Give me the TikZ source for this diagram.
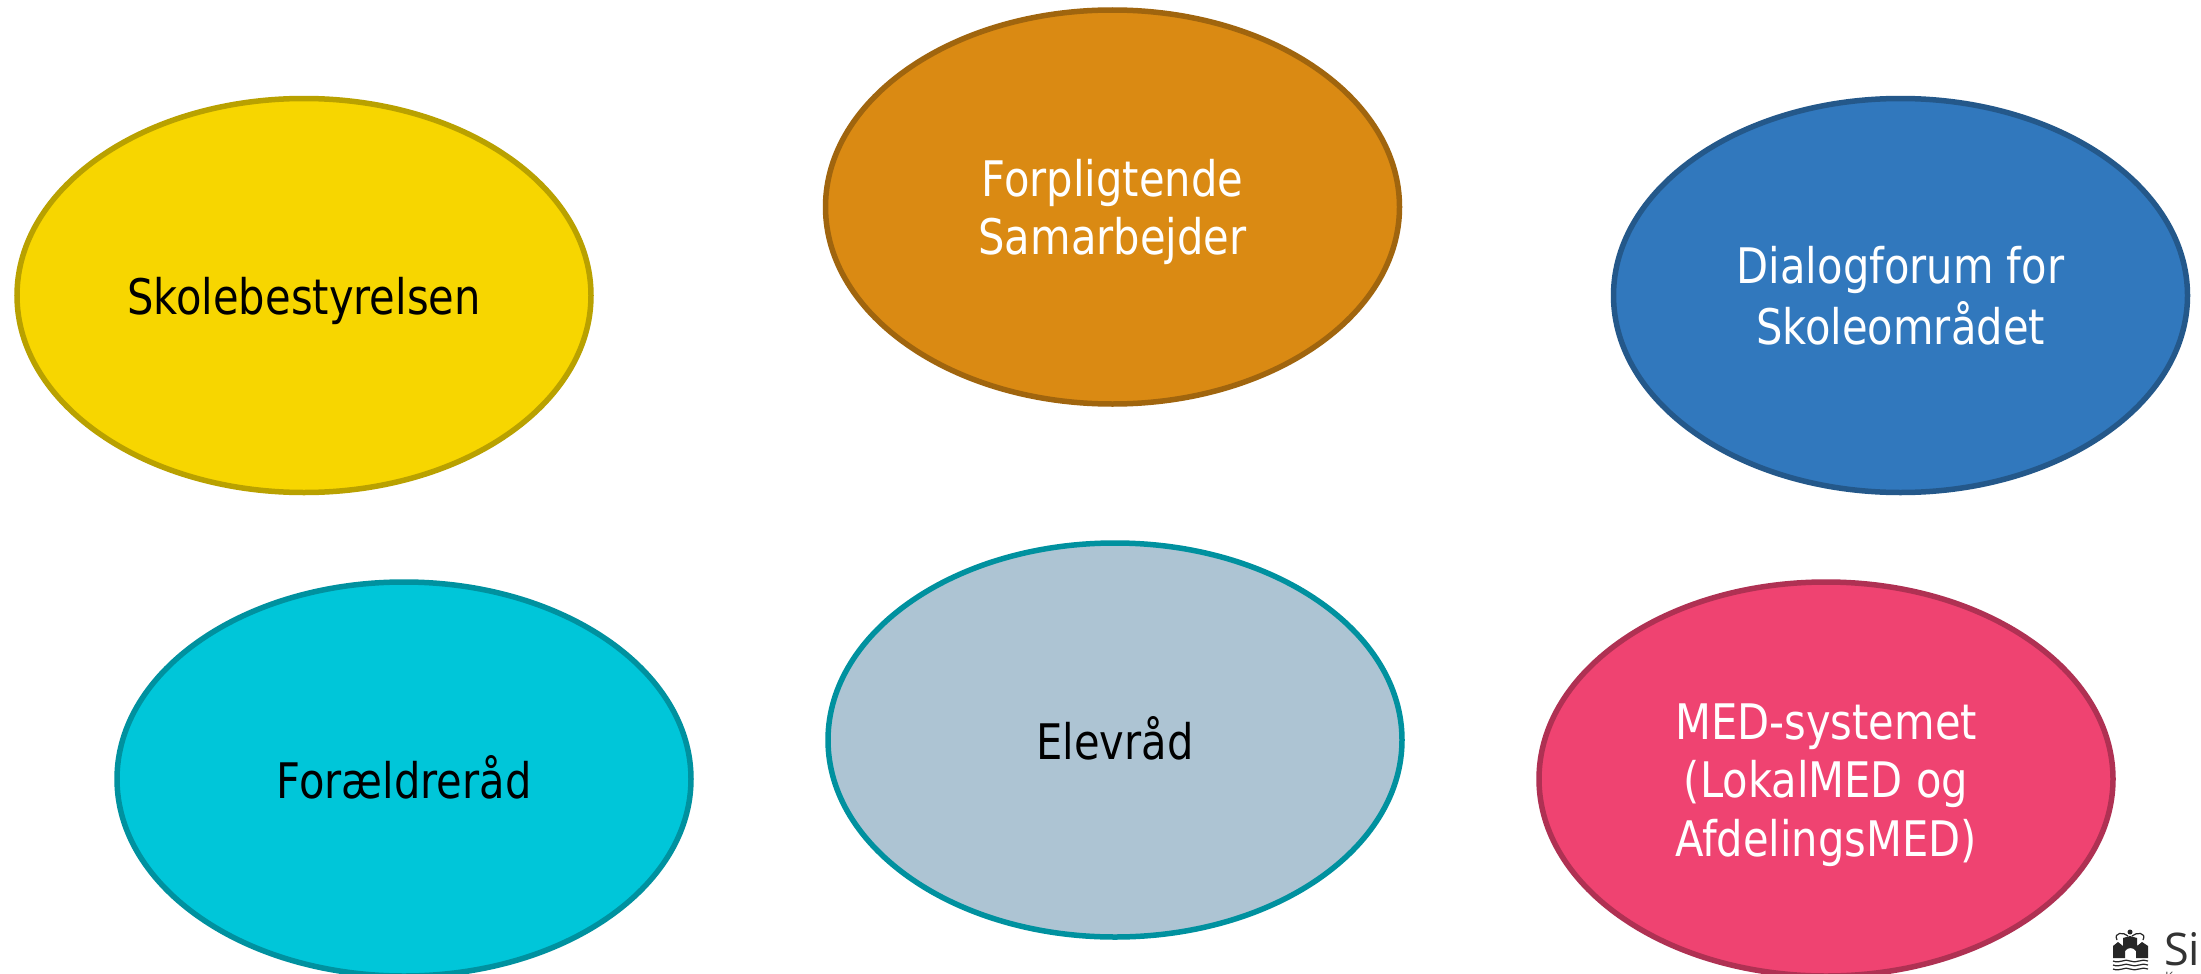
\documentclass[tikz,border=0pt]{standalone}
\usepackage{fontspec}
\setmainfont[FakeStretch=0.85]{DejaVu Sans}
\newfontfamily\logofont{Open Sans}
\definecolor{yelF}{HTML}{F7D600}\definecolor{yelL}{HTML}{B9A100}
\definecolor{oraF}{HTML}{DA8A13}\definecolor{oraL}{HTML}{A0650E}
\definecolor{bluF}{HTML}{3178BD}\definecolor{bluL}{HTML}{24588A}
\definecolor{cyaF}{HTML}{00C6D9}\definecolor{cyaL}{HTML}{00919F}
\definecolor{gryF}{HTML}{ADC4D3}\definecolor{gryL}{HTML}{00919F}
\definecolor{redF}{HTML}{EF4371}\definecolor{redL}{HTML}{AF3153}
\newcommand{\blobtext}[1]{\vbox{\kern14pt\hbox{\begin{tabular}{@{}c@{}}#1\end{tabular}}}}
\tikzset{
  x=1pt,y=-1pt,
  blob/.style={ellipse,minimum width=574pt,minimum height=394pt,inner sep=0pt,line width=5.5pt,
    font=\fontsize{49}{58.5}\selectfont},
}
\usetikzlibrary{shapes.geometric}
\begin{document}
\begin{tikzpicture}
\path[use as bounding box,fill=white] (0,0) rectangle (2201,974);
\begin{scope}
\clip (0,0) rectangle (2201,974);
\node[blob,draw=yelL,fill=yelF,text=black] (skole) at (304,295.5) {\blobtext{Skolebestyrelsen}};
\node[blob,draw=oraL,fill=oraF,text=white] (forpl) at (1112.5,207) {\blobtext{Forpligtende\\Samarbejder}};
\node[blob,draw=bluL,fill=bluF,text=white] (dialog) at (1900.5,295.5) {\blobtext{Dialogforum for\\Skoleområdet}};
\node[blob,draw=cyaL,fill=cyaF,text=black] (foraeld) at (404,779) {\blobtext{Forældreråd}};
\node[blob,draw=gryL,fill=gryF,text=black] (elev) at (1115,740) {\blobtext{Elevråd}};
\node[blob,draw=redL,fill=redF,text=white] (med) at (1826,779) {\blobtext{MED-systemet\\(LokalMED og\\AfdelingsMED)}};
% logo
\fill[black!85] (2113,958) -- (2113,946) -- (2118,942) -- (2123,946) -- (2123,938) -- (2130,936) -- (2137,938) -- (2137,946) -- (2142,942) -- (2148,946) -- (2148,958) -- (2136,958) -- (2136,951) .. controls (2133,947) and (2128,947) .. (2125,951) -- (2125,958) -- cycle;
\fill[black!85] (2130,932) circle (2.5);
\draw[black!85,line width=1.2pt] (2117,940) .. controls (2113,932) and (2124,932) .. (2128,936);
\draw[black!85,line width=1.2pt] (2143,940) .. controls (2147,932) and (2136,932) .. (2132,936);
\foreach \wy in {961,965,969}
  \draw[black!85,line width=1.2pt] (2113,\wy) .. controls (2120,\wy+3) and (2125,\wy-3) .. (2130,\wy) .. controls (2136,\wy+3) and (2142,\wy-3) .. (2148,\wy);
\node[anchor=base west,inner sep=0pt,text=black!80,font=\logofont\fontsize{45}{45}\selectfont] (logotxt) at (2164,965) {Si};
\node[anchor=base west,inner sep=0pt,text=black!70,font=\logofont\fontsize{13}{13}\selectfont] (logosub) at (2165,981) {K};
\end{scope}
\end{tikzpicture}
\end{document}
